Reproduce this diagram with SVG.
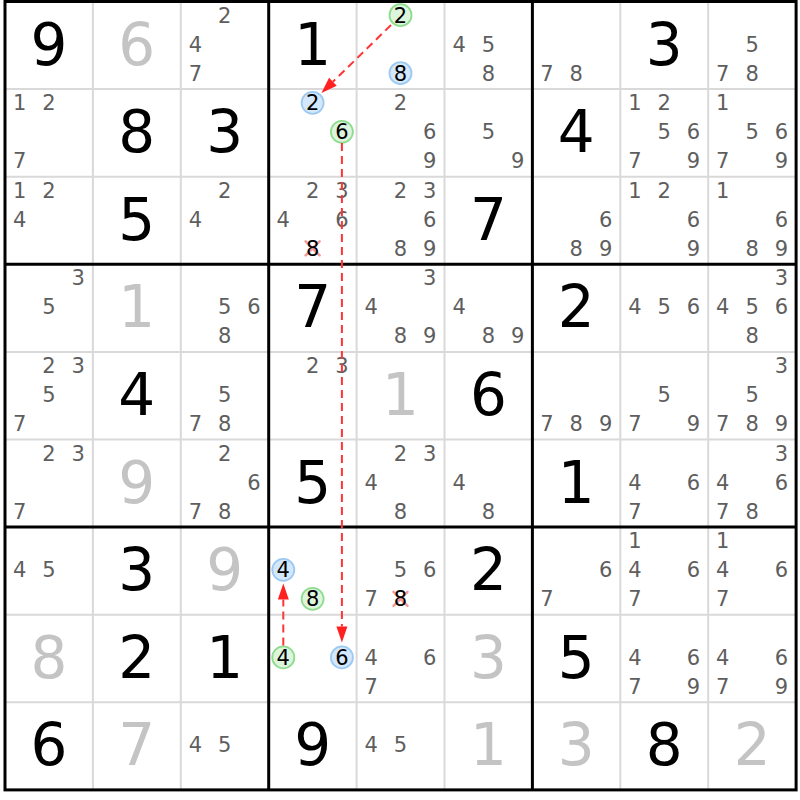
<svg xmlns="http://www.w3.org/2000/svg" width="800" height="800" viewBox="0 0 800 800">
<style>
text{font-family:"DejaVu Sans","Liberation Sans",sans-serif;text-anchor:middle}
.c{font-size:21px;fill:#5e5e5e}
.k{font-size:21px;fill:#000}
.b{font-size:58px;fill:#000}
.s{font-size:58px;fill:#c4c4c4}
.gc{fill:#dcf5dc;stroke:#8fdc8f;stroke-width:1.8}
.bc{fill:#d4e8fb;stroke:#9cc9f2;stroke-width:1.8}
.x{stroke:#f29a9a;stroke-width:2.5;stroke-linecap:round}
.thin{stroke:#d9d9d9;stroke-width:2}
.thick{stroke:#000;stroke-width:3}
.arr{stroke:#ff3535;stroke-width:2;stroke-dasharray:8,5;fill:none}
</style>
<defs>
<marker id="ah" markerUnits="userSpaceOnUse" markerWidth="16" markerHeight="11" refX="0" refY="5.5" orient="auto" overflow="visible">
<path d="M0,0 L16,5.5 L0,11 z" fill="#ff2020"/>
</marker>
</defs>
<rect x="0" y="0" width="800" height="800" fill="#fff"/>
<g id="grid">
<g class="thin">
<line x1="92.9" y1="1.5" x2="92.9" y2="789.9"/>
<line x1="180.8" y1="1.5" x2="180.8" y2="789.9"/>
<line x1="356.6" y1="1.5" x2="356.6" y2="789.9"/>
<line x1="444.5" y1="1.5" x2="444.5" y2="789.9"/>
<line x1="620.3" y1="1.5" x2="620.3" y2="789.9"/>
<line x1="708.2" y1="1.5" x2="708.2" y2="789.9"/>
<line x1="5" y1="89.1" x2="796.1" y2="89.1"/>
<line x1="5" y1="176.7" x2="796.1" y2="176.7"/>
<line x1="5" y1="351.9" x2="796.1" y2="351.9"/>
<line x1="5" y1="439.5" x2="796.1" y2="439.5"/>
<line x1="5" y1="614.7" x2="796.1" y2="614.7"/>
<line x1="5" y1="702.3" x2="796.1" y2="702.3"/>
</g>
<g class="thick">
<line x1="268.7" y1="1.5" x2="268.7" y2="789.9"/>
<line x1="532.4" y1="1.5" x2="532.4" y2="789.9"/>
<line x1="5" y1="264.3" x2="796.1" y2="264.3"/>
<line x1="5" y1="527.1" x2="796.1" y2="527.1"/>
<rect x="5" y="1.5" width="791.1" height="788.4" fill="none"/>
</g>
</g>
<g id="cells">
<!-- row 0 -->
<g id="r0c0" transform="translate(5,1.5)"><text class="b" x="43.9" y="63">9</text></g>
<g id="r0c1" transform="translate(92.9,1.5)"><text class="s" x="43.9" y="63">6</text></g>
<g id="r0c2" transform="translate(180.8,1.5)"><text class="c" x="43.9" y="21">2</text><text class="c" x="14.6" y="50">4</text><text class="c" x="14.6" y="79">7</text></g>
<g id="r0c3" transform="translate(268.7,1.5)"><text class="b" x="43.9" y="63">1</text></g>
<g id="r0c4" transform="translate(356.6,1.5)"><circle class="gc" cx="43.9" cy="13.7" r="11"/><text class="k" x="43.9" y="21.3">2</text><circle class="bc" cx="43.9" cy="71.7" r="11"/><text class="k" x="43.9" y="79.3">8</text></g>
<g id="r0c5" transform="translate(444.5,1.5)"><text class="c" x="14.6" y="50">4</text><text class="c" x="43.9" y="50">5</text><text class="c" x="43.9" y="79">8</text></g>
<g id="r0c6" transform="translate(532.4,1.5)"><text class="c" x="14.6" y="79">7</text><text class="c" x="43.9" y="79">8</text></g>
<g id="r0c7" transform="translate(620.3,1.5)"><text class="b" x="43.9" y="63">3</text></g>
<g id="r0c8" transform="translate(708.2,1.5)"><text class="c" x="43.9" y="50">5</text><text class="c" x="14.6" y="79">7</text><text class="c" x="43.9" y="79">8</text></g>
<!-- row 1 -->
<g id="r1c0" transform="translate(5,89.1)"><text class="c" x="14.6" y="21">1</text><text class="c" x="43.9" y="21">2</text><text class="c" x="14.6" y="79">7</text></g>
<g id="r1c1" transform="translate(92.9,89.1)"><text class="b" x="43.9" y="63">8</text></g>
<g id="r1c2" transform="translate(180.8,89.1)"><text class="b" x="43.9" y="63">3</text></g>
<g id="r1c3" transform="translate(268.7,89.1)"><circle class="bc" cx="43.9" cy="13.7" r="11"/><text class="k" x="43.9" y="21.3">2</text><circle class="gc" cx="73.2" cy="42.7" r="11"/><text class="k" x="73.2" y="50.3">6</text></g>
<g id="r1c4" transform="translate(356.6,89.1)"><text class="c" x="43.9" y="21">2</text><text class="c" x="73.2" y="50">6</text><text class="c" x="73.2" y="79">9</text></g>
<g id="r1c5" transform="translate(444.5,89.1)"><text class="c" x="43.9" y="50">5</text><text class="c" x="73.2" y="79">9</text></g>
<g id="r1c6" transform="translate(532.4,89.1)"><text class="b" x="43.9" y="63">4</text></g>
<g id="r1c7" transform="translate(620.3,89.1)"><text class="c" x="14.6" y="21">1</text><text class="c" x="43.9" y="21">2</text><text class="c" x="43.9" y="50">5</text><text class="c" x="73.2" y="50">6</text><text class="c" x="14.6" y="79">7</text><text class="c" x="73.2" y="79">9</text></g>
<g id="r1c8" transform="translate(708.2,89.1)"><text class="c" x="14.6" y="21">1</text><text class="c" x="43.9" y="50">5</text><text class="c" x="73.2" y="50">6</text><text class="c" x="14.6" y="79">7</text><text class="c" x="73.2" y="79">9</text></g>
<!-- row 2 -->
<g id="r2c0" transform="translate(5,176.7)"><text class="c" x="14.6" y="21">1</text><text class="c" x="43.9" y="21">2</text><text class="c" x="14.6" y="50">4</text></g>
<g id="r2c1" transform="translate(92.9,176.7)"><text class="b" x="43.9" y="63">5</text></g>
<g id="r2c2" transform="translate(180.8,176.7)"><text class="c" x="43.9" y="21">2</text><text class="c" x="14.6" y="50">4</text></g>
<g id="r2c3" transform="translate(268.7,176.7)"><text class="c" x="43.9" y="21">2</text><text class="c" x="73.2" y="21">3</text><text class="c" x="14.6" y="50">4</text><text class="c" x="73.2" y="50">6</text><line class="x" x1="36.9" y1="64.7" x2="50.9" y2="78.7"/><line class="x" x1="50.9" y1="64.7" x2="36.9" y2="78.7"/><text class="k" x="43.9" y="79">8</text></g>
<g id="r2c4" transform="translate(356.6,176.7)"><text class="c" x="43.9" y="21">2</text><text class="c" x="73.2" y="21">3</text><text class="c" x="73.2" y="50">6</text><text class="c" x="43.9" y="79">8</text><text class="c" x="73.2" y="79">9</text></g>
<g id="r2c5" transform="translate(444.5,176.7)"><text class="b" x="43.9" y="63">7</text></g>
<g id="r2c6" transform="translate(532.4,176.7)"><text class="c" x="73.2" y="50">6</text><text class="c" x="43.9" y="79">8</text><text class="c" x="73.2" y="79">9</text></g>
<g id="r2c7" transform="translate(620.3,176.7)"><text class="c" x="14.6" y="21">1</text><text class="c" x="43.9" y="21">2</text><text class="c" x="73.2" y="50">6</text><text class="c" x="73.2" y="79">9</text></g>
<g id="r2c8" transform="translate(708.2,176.7)"><text class="c" x="14.6" y="21">1</text><text class="c" x="73.2" y="50">6</text><text class="c" x="43.9" y="79">8</text><text class="c" x="73.2" y="79">9</text></g>
<!-- row 3 -->
<g id="r3c0" transform="translate(5,264.3)"><text class="c" x="73.2" y="21">3</text><text class="c" x="43.9" y="50">5</text></g>
<g id="r3c1" transform="translate(92.9,264.3)"><text class="s" x="43.9" y="63">1</text></g>
<g id="r3c2" transform="translate(180.8,264.3)"><text class="c" x="43.9" y="50">5</text><text class="c" x="73.2" y="50">6</text><text class="c" x="43.9" y="79">8</text></g>
<g id="r3c3" transform="translate(268.7,264.3)"><text class="b" x="43.9" y="63">7</text></g>
<g id="r3c4" transform="translate(356.6,264.3)"><text class="c" x="73.2" y="21">3</text><text class="c" x="14.6" y="50">4</text><text class="c" x="43.9" y="79">8</text><text class="c" x="73.2" y="79">9</text></g>
<g id="r3c5" transform="translate(444.5,264.3)"><text class="c" x="14.6" y="50">4</text><text class="c" x="43.9" y="79">8</text><text class="c" x="73.2" y="79">9</text></g>
<g id="r3c6" transform="translate(532.4,264.3)"><text class="b" x="43.9" y="63">2</text></g>
<g id="r3c7" transform="translate(620.3,264.3)"><text class="c" x="14.6" y="50">4</text><text class="c" x="43.9" y="50">5</text><text class="c" x="73.2" y="50">6</text></g>
<g id="r3c8" transform="translate(708.2,264.3)"><text class="c" x="73.2" y="21">3</text><text class="c" x="14.6" y="50">4</text><text class="c" x="43.9" y="50">5</text><text class="c" x="73.2" y="50">6</text><text class="c" x="43.9" y="79">8</text></g>
<!-- row 4 -->
<g id="r4c0" transform="translate(5,351.9)"><text class="c" x="43.9" y="21">2</text><text class="c" x="73.2" y="21">3</text><text class="c" x="43.9" y="50">5</text><text class="c" x="14.6" y="79">7</text></g>
<g id="r4c1" transform="translate(92.9,351.9)"><text class="b" x="43.9" y="63">4</text></g>
<g id="r4c2" transform="translate(180.8,351.9)"><text class="c" x="43.9" y="50">5</text><text class="c" x="14.6" y="79">7</text><text class="c" x="43.9" y="79">8</text></g>
<g id="r4c3" transform="translate(268.7,351.9)"><text class="c" x="43.9" y="21">2</text><text class="c" x="73.2" y="21">3</text></g>
<g id="r4c4" transform="translate(356.6,351.9)"><text class="s" x="43.9" y="63">1</text></g>
<g id="r4c5" transform="translate(444.5,351.9)"><text class="b" x="43.9" y="63">6</text></g>
<g id="r4c6" transform="translate(532.4,351.9)"><text class="c" x="14.6" y="79">7</text><text class="c" x="43.9" y="79">8</text><text class="c" x="73.2" y="79">9</text></g>
<g id="r4c7" transform="translate(620.3,351.9)"><text class="c" x="43.9" y="50">5</text><text class="c" x="14.6" y="79">7</text><text class="c" x="73.2" y="79">9</text></g>
<g id="r4c8" transform="translate(708.2,351.9)"><text class="c" x="73.2" y="21">3</text><text class="c" x="43.9" y="50">5</text><text class="c" x="14.6" y="79">7</text><text class="c" x="43.9" y="79">8</text><text class="c" x="73.2" y="79">9</text></g>
<!-- row 5 -->
<g id="r5c0" transform="translate(5,439.5)"><text class="c" x="43.9" y="21">2</text><text class="c" x="73.2" y="21">3</text><text class="c" x="14.6" y="79">7</text></g>
<g id="r5c1" transform="translate(92.9,439.5)"><text class="s" x="43.9" y="63">9</text></g>
<g id="r5c2" transform="translate(180.8,439.5)"><text class="c" x="43.9" y="21">2</text><text class="c" x="73.2" y="50">6</text><text class="c" x="14.6" y="79">7</text><text class="c" x="43.9" y="79">8</text></g>
<g id="r5c3" transform="translate(268.7,439.5)"><text class="b" x="43.9" y="63">5</text></g>
<g id="r5c4" transform="translate(356.6,439.5)"><text class="c" x="43.9" y="21">2</text><text class="c" x="73.2" y="21">3</text><text class="c" x="14.6" y="50">4</text><text class="c" x="43.9" y="79">8</text></g>
<g id="r5c5" transform="translate(444.5,439.5)"><text class="c" x="14.6" y="50">4</text><text class="c" x="43.9" y="79">8</text></g>
<g id="r5c6" transform="translate(532.4,439.5)"><text class="b" x="43.9" y="63">1</text></g>
<g id="r5c7" transform="translate(620.3,439.5)"><text class="c" x="14.6" y="50">4</text><text class="c" x="73.2" y="50">6</text><text class="c" x="14.6" y="79">7</text></g>
<g id="r5c8" transform="translate(708.2,439.5)"><text class="c" x="73.2" y="21">3</text><text class="c" x="14.6" y="50">4</text><text class="c" x="73.2" y="50">6</text><text class="c" x="14.6" y="79">7</text><text class="c" x="43.9" y="79">8</text></g>
<!-- row 6 -->
<g id="r6c0" transform="translate(5,527.1)"><text class="c" x="14.6" y="50">4</text><text class="c" x="43.9" y="50">5</text></g>
<g id="r6c1" transform="translate(92.9,527.1)"><text class="b" x="43.9" y="63">3</text></g>
<g id="r6c2" transform="translate(180.8,527.1)"><text class="s" x="43.9" y="63">9</text></g>
<g id="r6c3" transform="translate(268.7,527.1)"><circle class="bc" cx="14.6" cy="42.7" r="11"/><text class="k" x="14.6" y="50.3">4</text><circle class="gc" cx="43.9" cy="71.7" r="11"/><text class="k" x="43.9" y="79.3">8</text></g>
<g id="r6c4" transform="translate(356.6,527.1)"><text class="c" x="43.9" y="50">5</text><text class="c" x="73.2" y="50">6</text><text class="c" x="14.6" y="79">7</text><line class="x" x1="36.9" y1="64.7" x2="50.9" y2="78.7"/><line class="x" x1="50.9" y1="64.7" x2="36.9" y2="78.7"/><text class="k" x="43.9" y="79">8</text></g>
<g id="r6c5" transform="translate(444.5,527.1)"><text class="b" x="43.9" y="63">2</text></g>
<g id="r6c6" transform="translate(532.4,527.1)"><text class="c" x="73.2" y="50">6</text><text class="c" x="14.6" y="79">7</text></g>
<g id="r6c7" transform="translate(620.3,527.1)"><text class="c" x="14.6" y="21">1</text><text class="c" x="14.6" y="50">4</text><text class="c" x="73.2" y="50">6</text><text class="c" x="14.6" y="79">7</text></g>
<g id="r6c8" transform="translate(708.2,527.1)"><text class="c" x="14.6" y="21">1</text><text class="c" x="14.6" y="50">4</text><text class="c" x="73.2" y="50">6</text><text class="c" x="14.6" y="79">7</text></g>
<!-- row 7 -->
<g id="r7c0" transform="translate(5,614.7)"><text class="s" x="43.9" y="63">8</text></g>
<g id="r7c1" transform="translate(92.9,614.7)"><text class="b" x="43.9" y="63">2</text></g>
<g id="r7c2" transform="translate(180.8,614.7)"><text class="b" x="43.9" y="63">1</text></g>
<g id="r7c3" transform="translate(268.7,614.7)"><circle class="gc" cx="14.6" cy="42.7" r="11"/><text class="k" x="14.6" y="50.3">4</text><circle class="bc" cx="73.2" cy="42.7" r="11"/><text class="k" x="73.2" y="50.3">6</text></g>
<g id="r7c4" transform="translate(356.6,614.7)"><text class="c" x="14.6" y="50">4</text><text class="c" x="73.2" y="50">6</text><text class="c" x="14.6" y="79">7</text></g>
<g id="r7c5" transform="translate(444.5,614.7)"><text class="s" x="43.9" y="63">3</text></g>
<g id="r7c6" transform="translate(532.4,614.7)"><text class="b" x="43.9" y="63">5</text></g>
<g id="r7c7" transform="translate(620.3,614.7)"><text class="c" x="14.6" y="50">4</text><text class="c" x="73.2" y="50">6</text><text class="c" x="14.6" y="79">7</text><text class="c" x="73.2" y="79">9</text></g>
<g id="r7c8" transform="translate(708.2,614.7)"><text class="c" x="14.6" y="50">4</text><text class="c" x="73.2" y="50">6</text><text class="c" x="14.6" y="79">7</text><text class="c" x="73.2" y="79">9</text></g>
<!-- row 8 -->
<g id="r8c0" transform="translate(5,702.3)"><text class="b" x="43.9" y="63">6</text></g>
<g id="r8c1" transform="translate(92.9,702.3)"><text class="s" x="43.9" y="63">7</text></g>
<g id="r8c2" transform="translate(180.8,702.3)"><text class="c" x="14.6" y="50">4</text><text class="c" x="43.9" y="50">5</text></g>
<g id="r8c3" transform="translate(268.7,702.3)"><text class="b" x="43.9" y="63">9</text></g>
<g id="r8c4" transform="translate(356.6,702.3)"><text class="c" x="14.6" y="50">4</text><text class="c" x="43.9" y="50">5</text></g>
<g id="r8c5" transform="translate(444.5,702.3)"><text class="s" x="43.9" y="63">1</text></g>
<g id="r8c6" transform="translate(532.4,702.3)"><text class="s" x="43.9" y="63">3</text></g>
<g id="r8c7" transform="translate(620.3,702.3)"><text class="b" x="43.9" y="63">8</text></g>
<g id="r8c8" transform="translate(708.2,702.3)"><text class="s" x="43.9" y="63">2</text></g>
</g>
<g id="connectors">
<line class="arr" x1="391" y1="25" x2="332.9" y2="81.8" marker-end="url(#ah)"/>
<line class="arr" x1="341.9" y1="143" x2="341.9" y2="626.5" marker-end="url(#ah)"/>
<line class="arr" x1="283.3" y1="645.5" x2="283.3" y2="599.5" marker-end="url(#ah)"/>
</g>
</svg>
